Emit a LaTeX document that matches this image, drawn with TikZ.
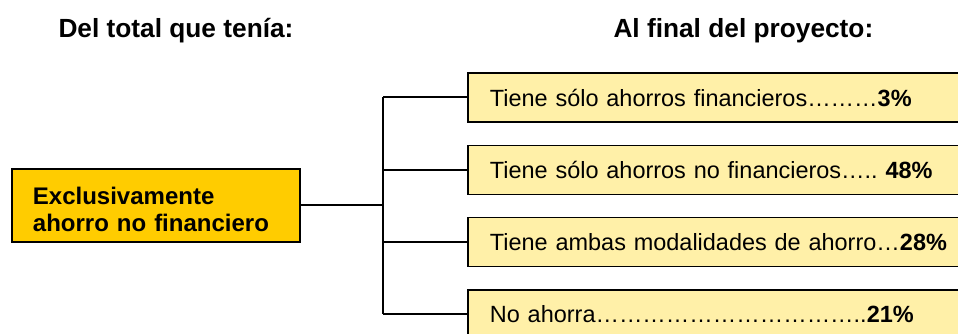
\documentclass[tikz,border=0pt]{standalone}
\usepackage{fontspec}
\setmainfont{Liberation Sans}
\usetikzlibrary{positioning}

\definecolor{goldbox}{RGB}{255,204,0}
\definecolor{paleyellow}{RGB}{255,240,168}

\tikzset{every picture/.style={line width=0.75pt}}
\tikzset{
  srcbox/.style={draw, line width=1.4pt, fill=goldbox, anchor=west,
    text width=184.5pt, inner xsep=15.75pt, minimum height=54.75pt,
    align=left, font=\fontsize{18}{20.5}\selectfont\bfseries},
  resbox/.style={draw, line width=1.4pt, fill=paleyellow, anchor=west,
    text width=372pt, inner xsep=16.5pt, minimum height=36.75pt,
    align=left, font=\fontsize{17.6}{20}\selectfont\frenchspacing},
  headtxt/.style={anchor=base west, inner sep=0pt,
    font=\fontsize{19.7}{23}\selectfont\bfseries},
  branch/.style={line width=1.5pt}
}

\begin{document}
\begin{tikzpicture}[x=0.75pt,y=0.75pt,yscale=-1,xscale=1]
\useasboundingbox (0,0) rectangle (958,334);
\clip (0,0) rectangle (958,334);

% Text Node
\node [headtxt] (hleft) at (58,38) {Del total que tenía:};
% Text Node
\node [headtxt] (hright) at (613,38) {Al final del proyecto:};

% Shape: Rectangle
\node [srcbox] (src) at (11,205.5) {\rule{0pt}{19pt}Exclusivamente\\ahorro no financiero};

% Shape: Rectangle
\node [resbox] (r1) at (467,97.5) {Tiene sólo ahorros financieros………\textbf{3\%}};
\node [resbox] (r2) at (467,170) {Tiene sólo ahorros no financieros….. \textbf{48\%}};
\node [resbox] (r3) at (467,242) {Tiene ambas modalidades de ahorro…\textbf{28\%}};
\node [resbox] (r4) at (467,314.5) {No ahorra…………%
…………%
………..\textbf{21\%}};

% Straight Lines
\coordinate (jn) at (383,205.5);
\draw [branch] (src.east) -- (jn);
\draw [branch] (jn |- r1.west) -- (jn |- r4.west);
\foreach \i in {1,...,4}
  \draw [branch] (jn |- r\i.west) -- (r\i.west);
\end{tikzpicture}
\end{document}
